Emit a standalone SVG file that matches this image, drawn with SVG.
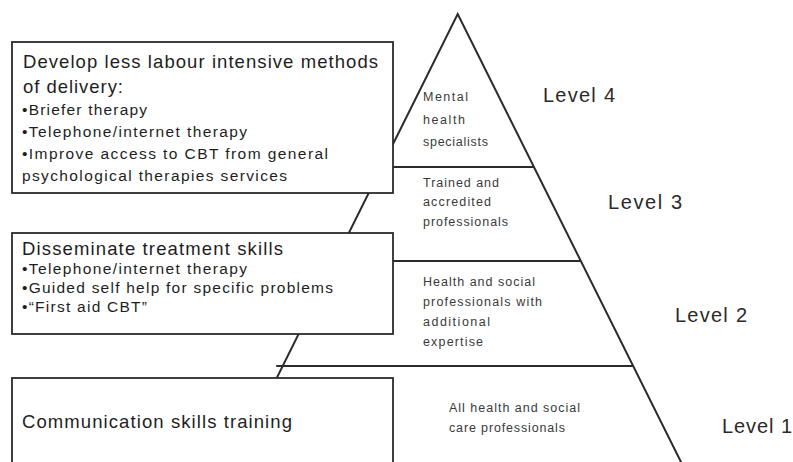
<svg xmlns="http://www.w3.org/2000/svg" width="793" height="462" viewBox="0 0 793 462">
  <style>
    .edge { fill: none; stroke: #2b2b2b; stroke-width: 2; stroke-linecap: round; }
    .box { fill: #ffffff; stroke: #2b2b2b; stroke-width: 1.8; }
    .head { font-family: "Liberation Sans", Arial, sans-serif; font-size: 18.5px; fill: #1e1e1e; }
    .item { font-family: "Liberation Sans", Arial, sans-serif; font-size: 15.5px; fill: #1e1e1e; }
    .tier { font-family: "Liberation Sans", Arial, sans-serif; font-size: 12.5px; fill: #3a3a3a; }
    .level { font-family: "Liberation Sans", Arial, sans-serif; font-size: 20px; fill: #2a2a2a; }
  </style>
  <rect width="793" height="462" fill="#ffffff"/>

  <!-- pyramid outline and tier dividers -->
  <g id="connectors">
    <polyline class="edge" points="231,470 457.7,14 685,470"/>
    <line class="edge" x1="390" y1="167" x2="533" y2="167"/>
    <line class="edge" x1="390" y1="261" x2="580" y2="261"/>
    <line class="edge" x1="277" y1="366" x2="633" y2="366"/>
  </g>

  <!-- tier contents -->
  <g id="tier4">
    <text class="tier" x="423" y="101" textLength="45" lengthAdjust="spacing">Mental</text>
    <text class="tier" x="423" y="124" textLength="42" lengthAdjust="spacing">health</text>
    <text class="tier" x="423" y="146" textLength="65" lengthAdjust="spacing">specialists</text>
    <text class="level" x="543" y="102" textLength="72" lengthAdjust="spacing">Level 4</text>
  </g>
  <g id="tier3">
    <text class="tier" x="423" y="187" textLength="76" lengthAdjust="spacing">Trained and</text>
    <text class="tier" x="423" y="206" textLength="68" lengthAdjust="spacing">accredited</text>
    <text class="tier" x="423" y="226" textLength="85" lengthAdjust="spacing">professionals</text>
    <text class="level" x="608" y="209" textLength="74" lengthAdjust="spacing">Level 3</text>
  </g>
  <g id="tier2">
    <text class="tier" x="423" y="286" textLength="112" lengthAdjust="spacing">Health and social</text>
    <text class="tier" x="423" y="306" textLength="119" lengthAdjust="spacing">professionals with</text>
    <text class="tier" x="423" y="326" textLength="67" lengthAdjust="spacing">additional</text>
    <text class="tier" x="423" y="346" textLength="60" lengthAdjust="spacing">expertise</text>
    <text class="level" x="675" y="322" textLength="72" lengthAdjust="spacing">Level 2</text>
  </g>
  <g id="tier1">
    <text class="tier" x="449" y="412" textLength="131" lengthAdjust="spacing">All health and social</text>
    <text class="tier" x="449" y="432" textLength="116" lengthAdjust="spacing">care professionals</text>
    <text class="level" x="722" y="433" textLength="70" lengthAdjust="spacing">Level 1</text>
  </g>

  <!-- strategy boxes -->
  <g id="box-delivery">
    <rect class="box" x="12" y="42" width="381" height="151"/>
    <text class="head" x="23" y="68" textLength="355" lengthAdjust="spacing">Develop less labour intensive methods</text>
    <text class="head" x="23" y="93" textLength="100" lengthAdjust="spacing">of delivery:</text>
    <text class="item" x="22" y="115" textLength="125" lengthAdjust="spacing">•Briefer therapy</text>
    <text class="item" x="22" y="137" textLength="225" lengthAdjust="spacing">•Telephone/internet therapy</text>
    <text class="item" x="22" y="159" textLength="306" lengthAdjust="spacing">•Improve access to CBT from general</text>
    <text class="item" x="22" y="181" textLength="265" lengthAdjust="spacing">psychological therapies services</text>
  </g>
  <g id="box-skills">
    <rect class="box" x="12" y="233" width="381" height="101"/>
    <text class="head" x="22" y="255" textLength="261" lengthAdjust="spacing">Disseminate treatment skills</text>
    <text class="item" x="22" y="274" textLength="225" lengthAdjust="spacing">•Telephone/internet therapy</text>
    <text class="item" x="22" y="293" textLength="311" lengthAdjust="spacing">•Guided self help for specific problems</text>
    <text class="item" x="22" y="312" textLength="125" lengthAdjust="spacing">•“First aid CBT”</text>
  </g>
  <g id="box-communication">
    <rect class="box" x="12" y="378" width="381" height="90"/>
    <text class="head" x="22" y="428" textLength="270" lengthAdjust="spacing">Communication skills training</text>
  </g>
</svg>
